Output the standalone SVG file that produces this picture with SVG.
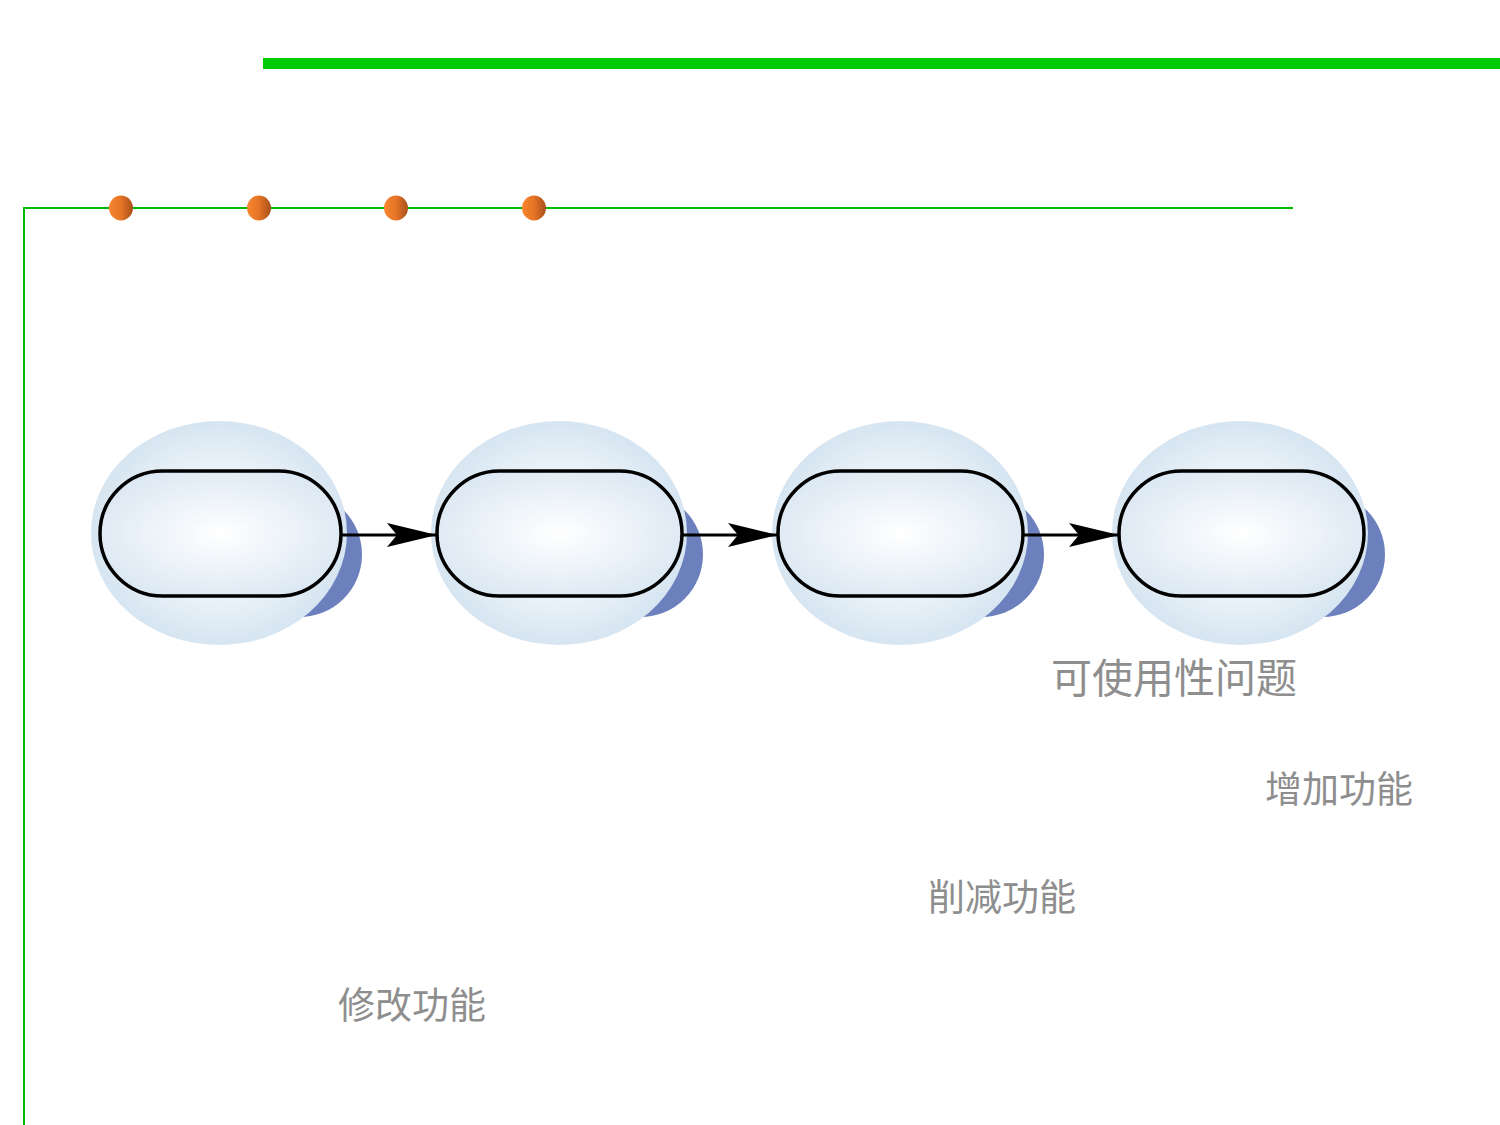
<svg xmlns="http://www.w3.org/2000/svg" width="1500" height="1125" viewBox="0 0 1500 1125">
<style>
.halo{fill:url(#halo)}
.shadow{fill:#6B80BD}
.pill{fill:url(#pillg);stroke:#000;stroke-width:3.5}
.edge{stroke:#000;stroke-width:3;fill:none;marker-end:url(#arr)}
.lbl{font-family:"Noto Sans CJK SC","Noto Sans",sans-serif;fill:#8E8E8E}
.dot{fill:url(#dotg)}
</style>
<defs>
<radialGradient id="halo" cx="0.5" cy="0.5" r="0.5">
<stop offset="0" stop-color="#FFFFFF"/>
<stop offset="0.6" stop-color="#EAF2F9"/>
<stop offset="1" stop-color="#D6E5F1"/>
</radialGradient>
<radialGradient id="pillg" cx="0.5" cy="0.5" r="0.55">
<stop offset="0" stop-color="#FFFFFF"/>
<stop offset="1" stop-color="#DCE8F3"/>
</radialGradient>
<linearGradient id="dotg" x1="0" y1="0" x2="1" y2="0">
<stop offset="0" stop-color="#F8862F"/>
<stop offset="0.5" stop-color="#E57426"/>
<stop offset="1" stop-color="#A9501A"/>
</linearGradient>
<marker id="arr" markerUnits="userSpaceOnUse" markerWidth="56" markerHeight="30" refX="52" refY="14" orient="auto">
<path d="M2,2 L52,14 L2,26 L12,14 Z" fill="#000"/>
</marker>
</defs>
<rect x="263" y="58" width="1237" height="11" fill="#00CC00"/>
<path d="M1293,208 H24 V1125" fill="none" stroke="#00BB00" stroke-width="2"/>
<ellipse class="dot" cx="121" cy="208" rx="12" ry="12.5"/>
<ellipse class="dot" cx="259" cy="208" rx="12" ry="12.5"/>
<ellipse class="dot" cx="396" cy="208" rx="12" ry="12.5"/>
<ellipse class="dot" cx="534" cy="208" rx="12" ry="12.5"/>
<g id="node1">
<rect class="shadow" x="121" y="492" width="241" height="125" rx="62.5"/>
<ellipse class="halo" cx="219" cy="533" rx="128" ry="112"/>
<rect class="pill" x="100" y="471" width="241" height="125" rx="62.5"/>
</g>
<g id="node2">
<rect class="shadow" x="458" y="492" width="245" height="125" rx="62.5"/>
<ellipse class="halo" cx="559" cy="533" rx="128" ry="112"/>
<rect class="pill" x="437" y="471" width="245" height="125" rx="62.5"/>
</g>
<g id="node3">
<rect class="shadow" x="799" y="492" width="245" height="125" rx="62.5"/>
<ellipse class="halo" cx="900" cy="533" rx="128" ry="112"/>
<rect class="pill" x="778" y="471" width="245" height="125" rx="62.5"/>
</g>
<g id="node4">
<rect class="shadow" x="1140" y="492" width="245" height="125" rx="62.5"/>
<ellipse class="halo" cx="1240" cy="533" rx="128" ry="112"/>
<rect class="pill" x="1119" y="471" width="245" height="125" rx="62.5"/>
</g>
<g id="connectors">
<line class="edge" x1="341" y1="535" x2="437" y2="535"/>
<line class="edge" x1="682" y1="535" x2="778" y2="535"/>
<line class="edge" x1="1023" y1="535" x2="1119" y2="535"/>
</g>
<g id="labels">
<text class="lbl" x="1051" y="693" font-size="41">可使用性问题</text>
<text class="lbl" x="1265" y="803" font-size="37">增加功能</text>
<text class="lbl" x="928" y="911" font-size="37">削减功能</text>
<text class="lbl" x="338" y="1019" font-size="37">修改功能</text>
</g>
</svg>
